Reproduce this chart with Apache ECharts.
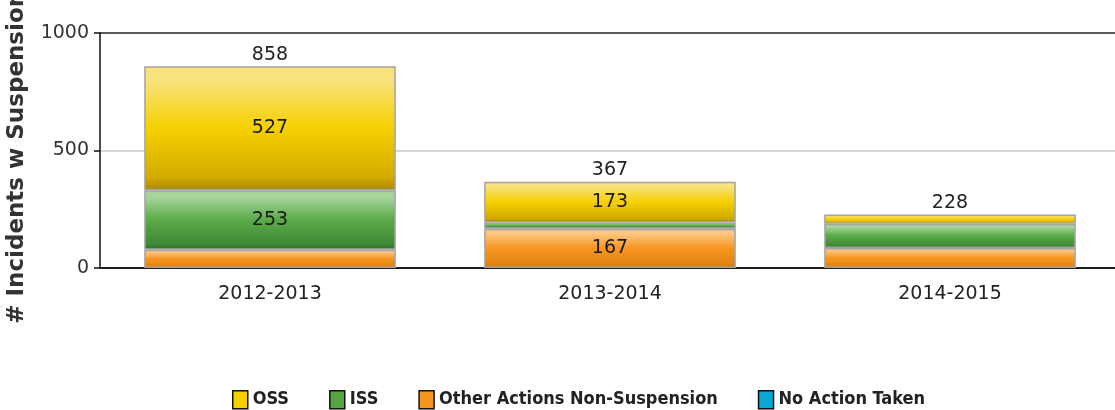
<!DOCTYPE html>
<html>
<head>
<meta charset="utf-8">
<script src="https://cdn.jsdelivr.net/npm/echarts@6/dist/echarts.min.js"></script>
<style>
  html, body { margin: 0; padding: 0; background: #fff; }
  #chart { width: 1115px; height: 410px; }
</style>
</head>
<body>
<div id="chart"></div>
<script>
// School years on the category axis
const years = ['2012-2013', '2013-2014', '2014-2015'];

// Incident counts by disciplinary action
const oss = [527, 173, 40];
const iss = [253, 27, 103];
const otherActions = [78, 167, 85];
const noAction = [0, 0, 0];

// Y axis ticks
const yTicks = [0, 500, 1000];

const totals = years.map((_, i) => oss[i] + iss[i] + otherActions[i] + noAction[i]);

const FONT = 'DejaVu Sans';

function bevel(top, mid, bottom, edge) {
  return new echarts.graphic.LinearGradient(0, 0, 0, 1, [
    { offset: 0, color: top },
    { offset: 0.12, color: top },
    { offset: 0.5, color: mid },
    { offset: 0.9, color: bottom },
    { offset: 1, color: edge }
  ]);
}

const insideLabel = {
  show: true,
  position: 'inside',
  color: '#1a1a1a',
  fontFamily: FONT,
  fontSize: 19,
  formatter: p => (p.value >= 150 ? String(p.value) : '')
};

function segment(name, data, fill) {
  return {
    name: name,
    type: 'bar',
    stack: 'actions',
    barWidth: '74%',
    data: data,
    itemStyle: { color: fill, borderColor: '#a3a3a3', borderWidth: 1.5 },
    label: insideLabel,
    emphasis: { disabled: true }
  };
}

const chart = echarts.init(document.getElementById('chart'), null, { renderer: 'canvas' });

chart.setOption({
  animation: false,
  backgroundColor: '#ffffff',
  grid: {
    left: 100, top: 33, width: 1020, height: 235,
    containLabel: false, outerBoundsMode: 'none'
  },
  legend: {
    data: [
      { name: 'OSS', itemStyle: { color: '#f7d000' } },
      { name: 'ISS', itemStyle: { color: '#55a542' } },
      { name: 'Other Actions Non-Suspension', itemStyle: { color: '#f7961f' } },
      { name: 'No Action Taken', itemStyle: { color: '#0aa8d4' } }
    ],
    left: 227,
    top: 385,
    icon: 'rect',
    itemWidth: 15,
    itemHeight: 18,
    itemGap: 40,
    itemTextGap: 7,
    itemStyle: { borderColor: '#111', borderWidth: 1.5 },
    textStyle: {
      fontFamily: 'DejaVu Sans Condensed',
      fontWeight: 'bold',
      fontSize: 18,
      color: '#222'
    }
  },
  xAxis: {
    type: 'category',
    data: years,
    boundaryGap: true,
    axisLine: { lineStyle: { color: '#111', width: 1.5 } },
    axisTick: { alignWithLabel: true, length: 6, lineStyle: { color: '#111', width: 1.5 } },
    axisLabel: { fontFamily: FONT, fontSize: 19, color: '#222', margin: 17 }
  },
  yAxis: {
    type: 'value',
    min: yTicks[0],
    max: yTicks[yTicks.length - 1],
    interval: yTicks[1] - yTicks[0],
    name: '# Incidents w Suspensions',
    nameLocation: 'middle',
    nameRotate: 90,
    nameGap: 71,
    nameTextStyle: { fontFamily: FONT, fontWeight: 'bold', fontSize: 23, color: '#333' },
    axisLine: { show: true, lineStyle: { color: '#111', width: 1.5 } },
    axisTick: { show: true, length: 6, lineStyle: { color: '#111', width: 1.5 } },
    axisLabel: {
      fontFamily: FONT, fontSize: 19, color: '#333', margin: 11,
      formatter: v => String(v)
    },
    splitLine: { show: true, lineStyle: { color: ['#111', '#c8c8c8', '#222'], width: 1.5 } }
  },
  series: [
    segment('Other Actions Non-Suspension', otherActions,
      bevel('#fcc683', '#f7961f', '#e08514', '#b8700f')),
    segment('ISS', iss,
      bevel('#a6d49a', '#5aaa48', '#3f8a36', '#2f6e29')),
    segment('OSS', oss,
      bevel('#f8e27c', '#f5d000', '#d2aa00', '#a88800')),
    {
      name: 'No Action Taken',
      type: 'bar',
      stack: 'actions',
      data: noAction,
      itemStyle: { color: '#0aa8d4', borderWidth: 0 },
      label: { show: false }
    },
    {
      name: 'Total',
      type: 'bar',
      stack: 'actions',
      data: years.map(() => 0),
      itemStyle: { color: 'transparent', borderWidth: 0 },
      label: {
        show: true,
        position: 'top',
        distance: 2,
        fontFamily: FONT,
        fontSize: 19,
        color: '#222',
        formatter: p => String(totals[p.dataIndex])
      }
    }
  ]
});
</script>
</body>
</html>
